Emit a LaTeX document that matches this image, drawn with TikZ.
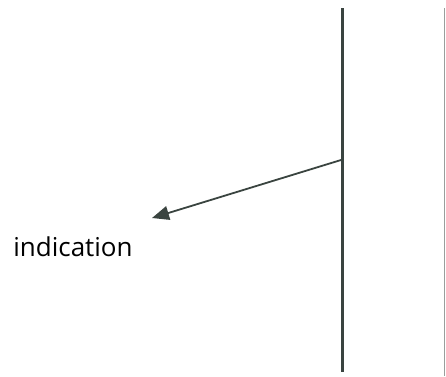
\documentclass[tikz,border=0pt]{standalone}
\usepackage{fontspec}
\setmainfont{Open Sans}
\usetikzlibrary{arrows.meta}
\definecolor{ink}{HTML}{3A4440}
\definecolor{light}{HTML}{9A9E9C}
\begin{document}
\begin{tikzpicture}[x=1pt,y=-1pt,
  wall/.style={draw=ink,line width=3pt},
  edge/.style={draw=light,line width=1pt},
  pointer/.style={draw=ink,line width=1.8pt,-{Triangle[length=17pt,width=14pt]}},
  lbl/.style={font=\fontsize{26}{30}\selectfont,text=black,inner sep=0pt,anchor=base}]
\useasboundingbox (0,0) rectangle (446,376);
\coordinate (w1) at (342,8);
\coordinate (w2) at (342,372);
\coordinate (e1) at (444,8);
\coordinate (e2) at (444,376);
\draw[wall] (w1) -- (w2);
\draw[edge] (e1) -- (e2);
\coordinate (s) at (341,160);
\coordinate (t) at (152,218);
\draw[pointer] (s) -- (t);
\node[lbl] (ind) at (73,256) {indication};
\end{tikzpicture}
\end{document}
